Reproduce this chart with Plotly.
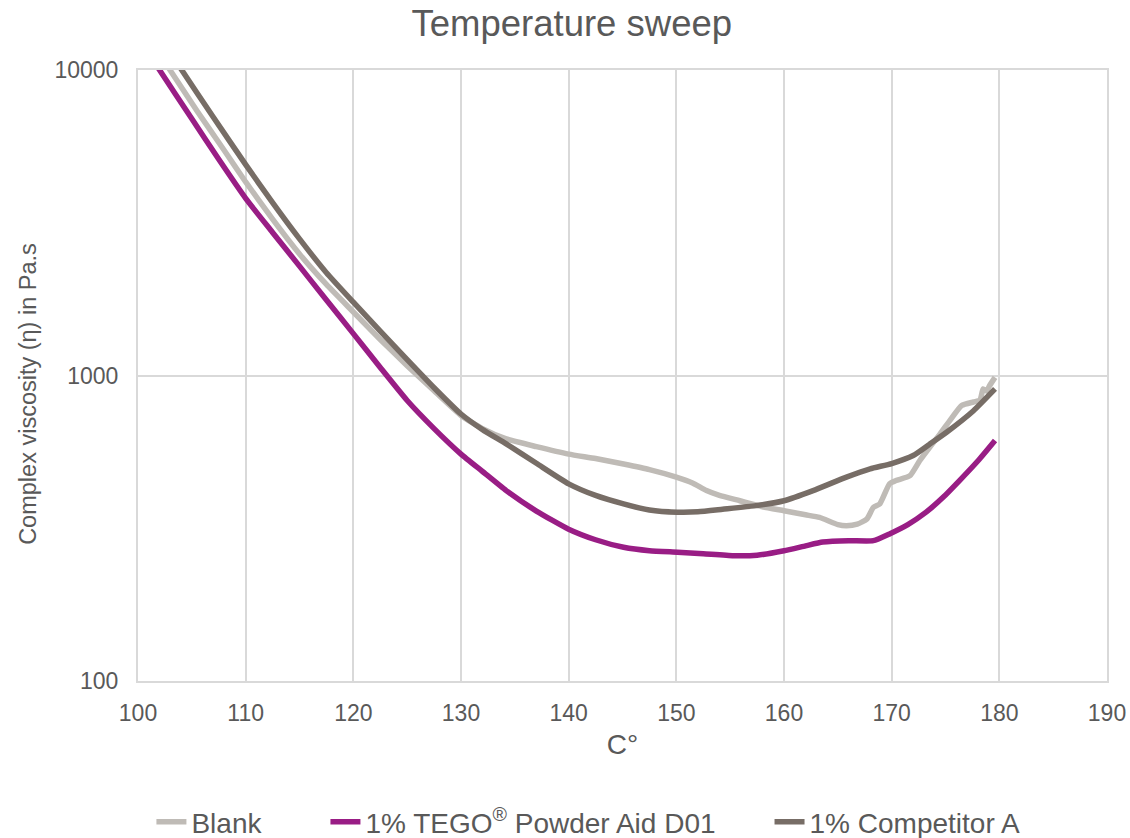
import plotly.graph_objects as go

# ---- data ----
blank_x = [102.3, 102.97, 105.5, 108.0, 110.0, 112.5, 115.0, 117.5, 120.0, 122.5, 125.0, 127.5, 130.0,
           132.0, 134.2, 137.0, 140.0, 142.5, 145.1, 147.5, 150.0, 151.5, 152.8, 154.0, 155.9, 158.0,
           160.0, 162.0, 163.3, 165.0, 165.8, 166.8, 167.7, 168.3, 168.9, 169.8, 170.4, 171.7, 172.6,
           173.5, 174.5, 175.5, 176.5, 177.6, 178.2, 178.5, 178.8, 179.1, 179.6]
blank_y = [10800, 10000, 7330, 5460, 4300, 3250, 2500, 1986, 1614, 1312, 1076, 891, 740,
           670, 620, 585, 553, 535, 513, 492, 465, 445, 420, 405, 389, 372,
           361, 350, 343, 325, 322, 326, 339, 370, 380, 442, 453, 470, 526,
           580, 644, 720, 798, 819, 830, 904, 890, 927, 986]

tego_x = [101.5, 102.0, 105.0, 107.5, 110.0, 112.5, 115.0, 117.5, 120.0, 122.5, 125.0, 127.5, 130.0,
          132.0, 134.2, 137.0, 140.0, 142.5, 145.1, 147.5, 150.1, 152.5, 155.3, 157.5, 160.0, 162.0,
          163.6, 166.0, 168.3, 169.8, 171.5, 173.2, 174.8, 176.3, 178.0, 179.6]
tego_y = [10600, 10000, 6920, 5100, 3800, 2940, 2280, 1766, 1371, 1062, 828, 670, 553,
          485, 420, 360, 314, 290, 274, 267, 264, 261, 257, 258, 267, 277,
          285, 288, 288, 303, 325, 357, 400, 453, 525, 613]

comp_x = [103.4, 104.06, 107.0, 110.0, 112.5, 115.0, 117.5, 120.0, 122.5, 125.0, 127.5, 130.0,
          132.0, 134.2, 137.0, 140.0, 142.5, 145.1, 147.5, 150.1, 152.0, 154.3, 157.4, 160.0,
          162.7, 165.8, 168.0, 170.0, 172.0, 173.5, 175.1, 177.6, 179.6]
comp_y = [10800, 10000, 7000, 4900, 3680, 2800, 2170, 1738, 1397, 1127, 912, 748,
          665, 597, 516, 442, 405, 380, 363, 357, 358, 365, 375, 389,
          420, 465, 495, 515, 547, 595, 652, 767, 904]

series_names = ["Blank", "1% TEGO<sup>®</sup> Powder Aid D01", "1% Competitor A"]
series_colors = ["#BFBBB6", "#991D85", "#776D66"]

x_ticks = [100, 110, 120, 130, 140, 150, 160, 170, 180, 190]
y_ticks = [100, 1000, 10000]
y_ticktext = ["100", "1000", "10000"]

TEXT = "#595959"
GRID = "#D9D9D9"
FONT = "Liberation Sans, Arial, sans-serif"

legend_ids = ["legend", "legend2", "legend3"]
legend_x = [0.134, 0.288, 0.681]

fig = go.Figure()
for xs, ys, name, col, lg in zip([blank_x, tego_x, comp_x], [blank_y, tego_y, comp_y],
                                 series_names, series_colors, legend_ids):
    fig.add_trace(go.Scatter(x=xs, y=ys, mode="lines", name=name, legend=lg,
                             line=dict(color=col, width=5.5, shape="spline", smoothing=0.5),
                             cliponaxis=True))

legend_common = dict(orientation="h", xref="container", yref="container", xanchor="left",
                     y=0.019, yanchor="middle", bgcolor="rgba(0,0,0,0)",
                     font=dict(size=28, color=TEXT, family=FONT))

fig.update_layout(
    width=1130, height=838,
    margin=dict(l=138, r=23, t=70, b=157, autoexpand=False),
    paper_bgcolor="white", plot_bgcolor="white",
    font=dict(family=FONT, color=TEXT, size=23),
    title=dict(text="Temperature sweep", x=0.506, xref="container", xanchor="center",
               y=0.972, yref="container", yanchor="middle",
               font=dict(size=36.5, color=TEXT, family=FONT)),
    showlegend=True,
    legend=dict(x=legend_x[0], **legend_common),
    legend2=dict(x=legend_x[1], **legend_common),
    legend3=dict(x=legend_x[2], **legend_common),
    annotations=[dict(text="Complex viscosity (η) in Pa.s", textangle=-90,
                      xref="paper", yref="paper", x=-0.1135, y=0.47,
                      xanchor="center", yanchor="middle", showarrow=False,
                      font=dict(size=23.5, color=TEXT, family=FONT))],
)
fig.update_xaxes(range=[100, 190], tickvals=x_ticks, showgrid=True, gridcolor=GRID, gridwidth=2,
                 showline=True, linecolor=GRID, linewidth=2, mirror=True, zeroline=False,
                 automargin=False,
                 ticks="", ticklabelstandoff=10, tickfont=dict(size=23, color=TEXT),
                 title=dict(text="C°", font=dict(size=28, color=TEXT), standoff=10))
fig.update_yaxes(type="log", range=[2, 4], tickvals=y_ticks, ticktext=y_ticktext,
                 showgrid=True, gridcolor=GRID, gridwidth=2,
                 showline=True, linecolor=GRID, linewidth=2, mirror=True, zeroline=False,
                 automargin=False,
                 ticks="", ticklabelstandoff=13, tickfont=dict(size=23, color=TEXT))

fig.write_html("out.html")
